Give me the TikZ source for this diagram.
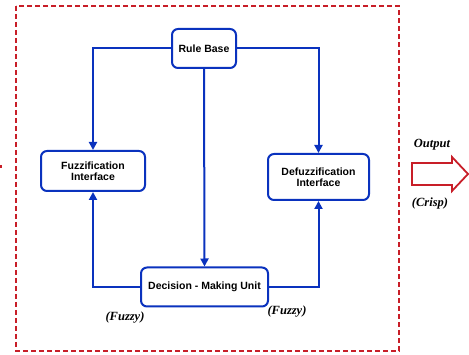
\documentclass[tikz,border=0pt]{standalone}
\usepackage{fontspec}
\setmainfont{Liberation Sans}
\newfontfamily\labelfont{Liberation Serif}
\usetikzlibrary{arrows.meta}
\definecolor{fblue}{RGB}{10,50,190}
\definecolor{fred}{RGB}{200,30,40}
\tikzset{
  blk/.style={draw=fblue, line width=2pt, rounded corners=6pt, fill=white,
    font=\fontsize{10.5}{11.5}\selectfont\bfseries, align=center, inner sep=0pt},
  conn/.style={draw=fblue, line width=2pt, -{Triangle[length=8pt,width=8pt]}},
  tag/.style={font=\labelfont\fontsize{12.5}{14}\selectfont\bfseries\itshape, inner sep=0pt}
}
\begin{document}
\begin{tikzpicture}[x=1pt,y=-1pt]
\useasboundingbox (0,0) rectangle (469,355);
\draw[fred, line width=1.6pt, dash pattern=on 5pt off 3pt] (16,6) rectangle (399,351);
\node[blk, minimum width=64pt, minimum height=39pt] (rb) at (204,48.5) {Rule Base};
\node[blk, minimum width=104pt, minimum height=40pt] (fi) at (93,171) {Fuzzification\\Interface};
\node[blk, minimum width=101pt, minimum height=46pt] (di) at (318.5,177) {Defuzzification\\Interface};
\node[blk, minimum width=127pt, minimum height=39pt] (dm) at (204.5,287) {Decision - Making Unit};
\draw[conn] (rb.west) -| (fi.north);
\draw[conn] (rb.east) -| (di.north);
\draw[conn] (rb.south) -- (dm.north);
\draw[conn] (dm.west) -| (fi.south);
\draw[conn] (dm.east) -| (di.south);
\node[tag] (fz1) at (125,318) {(Fuzzy)};
\node[tag] (fz2) at (287,312) {(Fuzzy)};
\node[tag] (out) at (432,145) {Output};
\node[tag] (cr) at (430,203) {(Crisp)};
\draw[fred, line width=1.8pt, fill=white] (412,163) -- (452,163) -- (452,157) -- (468,174) -- (452,191) -- (452,185) -- (412,185) -- cycle;
\fill[fred] (0,165.5) rectangle (2,168);
\end{tikzpicture}
\end{document}
